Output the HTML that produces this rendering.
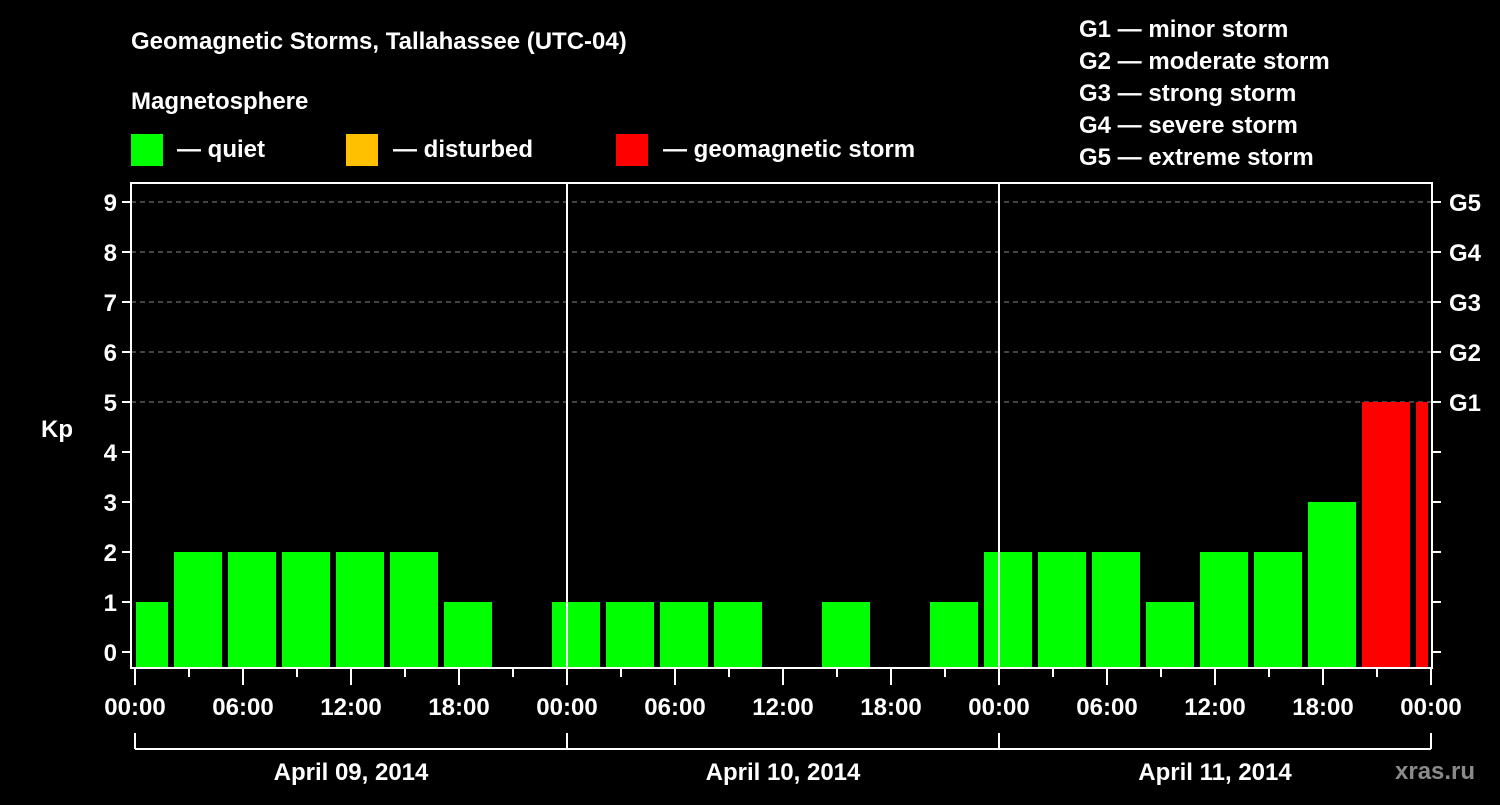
<!DOCTYPE html>
<html><head><meta charset="utf-8"><style>
html,body{margin:0;padding:0;background:#000;}
svg text{font-family:"Liberation Sans",sans-serif;font-weight:bold;fill:#fff;}
</style></head><body>
<svg id="chart" width="1500" height="800" viewBox="0 0 1500 800">
<rect width="1500" height="800" fill="#000"/>
<text x="131" y="49" font-size="24">Geomagnetic Storms, Tallahassee (UTC-04)</text>
<text x="131" y="109" font-size="24">Magnetosphere</text>
<g>
<rect x="131" y="134" width="32" height="32" fill="#00ff00"/>
<text x="177" y="157" font-size="24">— quiet</text>
<rect x="346" y="134" width="32" height="32" fill="#ffc000"/>
<text x="393" y="157" font-size="24">— disturbed</text>
<rect x="616" y="134" width="32" height="32" fill="#ff0000"/>
<text x="663" y="157" font-size="24">— geomagnetic storm</text>
</g>
<g font-size="24">
<text x="1079" y="37">G1 — minor storm</text>
<text x="1079" y="69">G2 — moderate storm</text>
<text x="1079" y="101">G3 — strong storm</text>
<text x="1079" y="133">G4 — severe storm</text>
<text x="1079" y="165">G5 — extreme storm</text>
</g>
<text x="41" y="437" font-size="24">Kp</text>
<text x="1395" y="779" font-size="24" fill="#888" style="fill:#8a8a8a">xras.ru</text>
<g id="grid"></g><g id="bars"></g><g id="axes"></g>
</svg>
<script>
const kpValues = [1,2,2,2,2,2,1,0, 1,1,1,1,0,1,0,1, 2,2,2,1,2,2,3,5,5];
const dayLabels = ["April 09, 2014","April 10, 2014","April 11, 2014"];
const hourLabels = ["00:00","06:00","12:00","18:00"];
const gLabels = ["G1","G2","G3","G4","G5"];
const startHour = -1; // first bar start (hours from Apr 9 00:00 local)
const NS="http://www.w3.org/2000/svg";
const X0=135, PXH=18, PL=131, PR=1432, PT=183, PB=668;
const x = h => X0 + h*PXH;
const y = k => 652 - k*50;
function mk(tag, attrs, parent){const e=document.createElementNS(NS,tag);for(const k in attrs)e.setAttribute(k,attrs[k]);parent.appendChild(e);return e;}
const grid=document.getElementById('grid'), bars=document.getElementById('bars'), axes=document.getElementById('axes');
for(let k=5;k<=9;k++){
  const l=mk('line',{x1:PL,x2:PR,y1:y(k),y2:y(k),stroke:'#888','stroke-dasharray':'5,4','stroke-width':1},grid);
  
  
}
kpValues.forEach((v,i)=>{
  if(v<=0) return;
  const h0=startHour+i*3;
  let x1=Math.max(x(h0)+3,PL+5), x2=Math.min(x(h0+3)-3,PR-4);
  const r=mk('rect',{x:x1,y:y(v),width:x2-x1,height:PB-1-y(v),fill:v>=5?'#ff0000':(v>=4?'#ffc000':'#00ff00')},bars);
  
  
});
// frame
const fr=mk('rect',{x:PL,y:PT,width:PR-PL,height:PB-PT,fill:'none',stroke:'#fff','stroke-width':2},axes);


for(let d=1;d<dayLabels.length;d++){
  const l=mk('line',{x1:x(d*24),x2:x(d*24),y1:PT,y2:PB,stroke:'#fff','stroke-width':2},axes);
  
  
}
for(let k=0;k<=9;k++){
  mk('line',{x1:PL-9,x2:PL,y1:y(k),y2:y(k),stroke:'#fff','stroke-width':2},axes);
  mk('line',{x1:PR,x2:PR+9,y1:y(k),y2:y(k),stroke:'#fff','stroke-width':2},axes);
  const t=mk('text',{x:PL-14,y:y(k)+9,'font-size':24,'text-anchor':'end'},axes);
  t.textContent=k;
  
  
}
gLabels.forEach((g,i)=>{
  const t=mk('text',{x:1449,y:y(5+i)+9,'font-size':24},axes);
  t.textContent=g;
  
  
});
for(let h=0;h<=dayLabels.length*24;h+=3){
  const major=h%6===0;
  mk('line',{x1:x(h),x2:x(h),y1:PB,y2:PB+(major?17:9),stroke:'#fff','stroke-width':2},axes);
  if(major){
    const t=mk('text',{x:x(h),y:715,'font-size':24,'text-anchor':'middle'},axes);
    t.textContent=hourLabels[(h%24)/6];
    
    
  }
}
mk('line',{x1:x(0),x2:x(dayLabels.length*24),y1:749,y2:749,stroke:'#fff','stroke-width':2},axes);
dayLabels.forEach((d,i)=>{
  mk('line',{x1:x(i*24),x2:x(i*24),y1:733,y2:749,stroke:'#fff','stroke-width':2},axes);
  const t=mk('text',{x:x(i*24+12),y:780,'font-size':24,'text-anchor':'middle'},axes);
  t.textContent=d;
  
  
});
mk('line',{x1:x(72),x2:x(72),y1:733,y2:749,stroke:'#fff','stroke-width':2},axes);
</script>
</body></html>
